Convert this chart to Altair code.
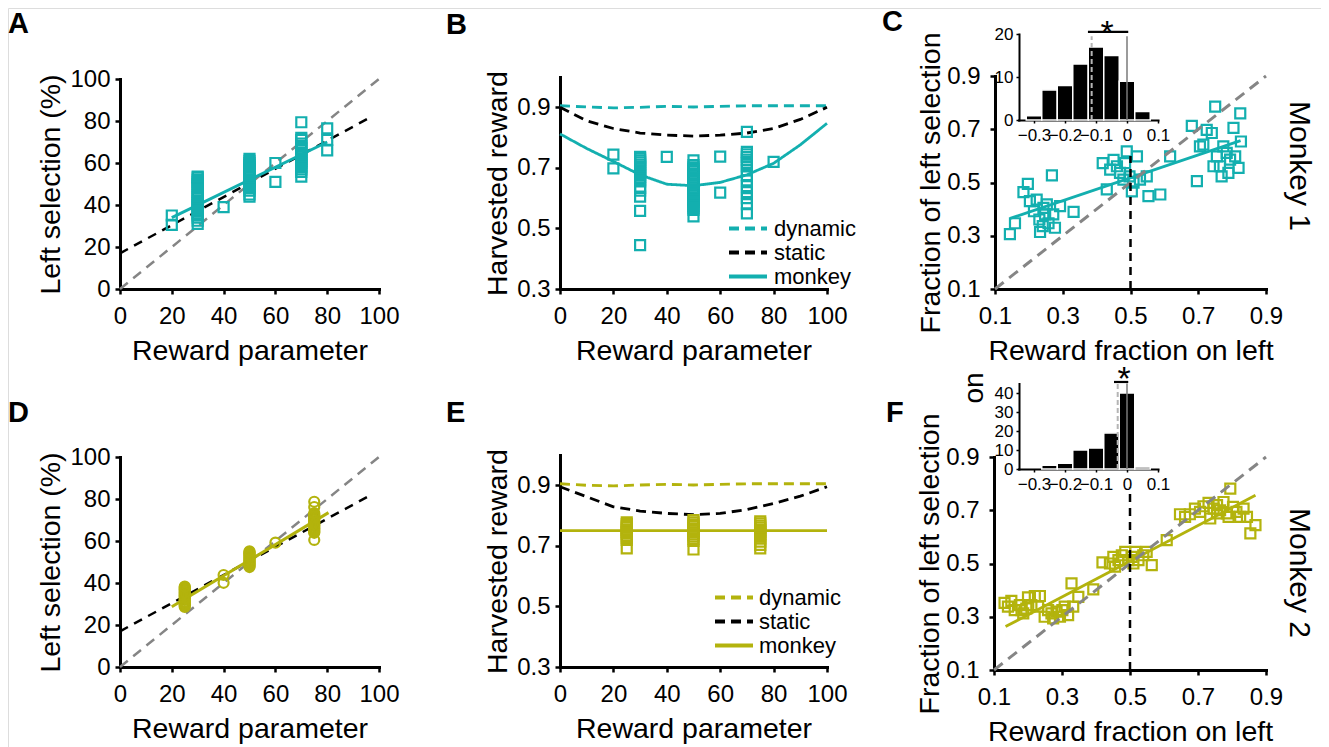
import altair as alt
import pandas as pd

W, H = 1313, 739
M = 8  # page pixel = chart pixel + M
FONT = "Liberation Sans"
CYAN = "#13AFAF"
OLIVE = "#B3B30D"
GRAY = "#858585"

# ---------------- Panel A (monkey 1) ----------------
a_param = [20, 20,
           30, 30, 30, 30, 30, 30, 30, 30, 30, 30, 30, 30, 30, 30, 30, 30, 30, 30, 30, 30, 30, 30,
           40,
           50, 50, 50, 50, 50, 50, 50, 50, 50, 50, 50, 50, 50, 50, 50, 50, 50, 50,
           60, 60,
           70, 70, 70, 70, 70, 70, 70, 70, 70, 70, 70, 70, 70, 70, 70, 70, 70, 70,
           80, 80, 80]
a_left = [35, 30.5,
          31, 32.5, 34, 35, 36, 37, 38, 39, 40, 41, 42, 43, 44, 45, 46.2, 48, 49, 50, 51, 52, 53, 53.5,
          39,
          44, 45, 46.8, 48, 49, 50, 51, 52, 53, 54, 55, 56, 57, 58, 59, 60, 61, 62,
          60, 51,
          53.5, 55.8, 57, 58, 59, 60, 61, 62, 63, 64, 65, 66, 67, 68, 69.2, 71, 72, 79.4,
          76.5, 71, 66]
a_fit_param = [20, 80]
a_fit_left = [34, 70]

# static model line and unity line shared by A and D
static_param = [0, 97]
static_left = [17, 82]
unity = [0, 100]

# ---------------- Panel D (monkey 2) ----------------
d_param = [25, 25, 25, 25, 25, 25, 25, 25, 25, 25, 25, 25, 25, 25, 25, 25, 25, 25, 25, 25,
           40, 40,
           50, 50, 50, 50, 50, 50, 50, 50, 50, 50, 50, 50, 50, 50, 50, 50,
           60,
           75, 75, 75, 75, 75, 75, 75, 75, 75, 75, 75, 75, 75, 75, 75, 75, 75, 75, 75, 75, 75, 75]
d_left = [28.6, 29.2, 29.7, 30.1, 30.8, 31.2, 31.9, 32.3, 32.8, 33.4, 33.9, 34.3, 34.9, 35.4,
          35.8, 36.5, 36.9, 37.4, 37.9, 38.3,
          43.8, 40.1,
          47.6, 48.1, 48.7, 49.2, 49.6, 50.2, 50.7, 51.1, 51.8, 52.2, 52.7, 53.3, 53.8, 54.2, 54.7, 55.1,
          59.2,
          60.5, 63.9, 64.4, 64.9, 65.5, 66.0, 66.4, 67.1, 67.5, 68.0, 68.6, 69.1, 69.5, 70.2,
          70.6, 71.1, 71.7, 72.2, 72.6, 73.3, 76.2, 78.7]
d_fit_param = [20, 80.5]
d_fit_left = [28.7, 73.5]

# ---------------- Panel B ----------------
b_param = [20, 20,
           30, 30, 30, 30, 30, 30, 30, 30, 30, 30, 30, 30, 30, 30, 30, 30, 30, 30,
           40,
           50, 50, 50, 50, 50, 50, 50, 50, 50, 50, 50, 50, 50, 50, 50, 50, 50, 50, 50, 50, 50, 50,
           50, 50, 50,
           60, 60,
           70, 70, 70, 70, 70, 70, 70, 70, 70, 70, 70, 70, 70, 70, 70,
           80]
b_reward = [0.744, 0.698,
            0.445, 0.558, 0.605, 0.625, 0.634, 0.655, 0.662, 0.669, 0.676, 0.683, 0.690, 0.697,
            0.704, 0.711, 0.718, 0.725, 0.731, 0.736,
            0.736,
            0.540, 0.561, 0.567, 0.574, 0.581, 0.588, 0.594, 0.601, 0.608, 0.615, 0.621, 0.628,
            0.635, 0.642, 0.648, 0.655, 0.662, 0.669, 0.675, 0.682, 0.689, 0.696, 0.702, 0.709, 0.725,
            0.737, 0.618,
            0.550, 0.580, 0.600, 0.620, 0.640, 0.659, 0.676, 0.692, 0.705, 0.716, 0.727, 0.736,
            0.745, 0.753, 0.819,
            0.72]
curve_param = [0, 10, 20, 30, 40, 50, 60, 70, 80, 90, 100]
b_dynamic = [0.905, 0.901, 0.898, 0.900, 0.903, 0.901, 0.903, 0.905, 0.905, 0.905, 0.905]
b_static = [0.900, 0.855, 0.830, 0.815, 0.808, 0.805, 0.808, 0.815, 0.830, 0.860, 0.900]
b_monkey = [0.812, 0.764, 0.721, 0.677, 0.646, 0.641, 0.652, 0.677, 0.715, 0.776, 0.847]

# ---------------- Panel E ----------------
e_param = [25, 25, 25, 25, 25, 25, 25, 25, 25, 25, 25,
           50, 50, 50, 50, 50, 50, 50, 50, 50, 50, 50, 50,
           75, 75, 75, 75, 75, 75, 75, 75, 75, 75, 75, 75]
e_reward = [0.692, 0.720, 0.727, 0.733, 0.740, 0.746, 0.753, 0.760, 0.766, 0.772, 0.778,
            0.688, 0.716, 0.723, 0.730, 0.737, 0.744, 0.751, 0.758, 0.765, 0.771, 0.778, 0.785,
            0.692, 0.703, 0.714, 0.725, 0.732, 0.739, 0.746, 0.753, 0.760, 0.767, 0.774, 0.781]
e_dynamic = [0.905, 0.900, 0.898, 0.901, 0.903, 0.901, 0.903, 0.905, 0.905, 0.905, 0.905]
e_static = [0.895, 0.862, 0.829, 0.815, 0.807, 0.803, 0.807, 0.820, 0.840, 0.864, 0.895]
e_monkey = [0.75, 0.75, 0.75, 0.75, 0.75, 0.75, 0.75, 0.75, 0.75, 0.75, 0.75]

series_names = ["dynamic", "static", "monkey"]

# ---------------- Panel C ----------------
c_frac = [0.144, 0.159, 0.184, 0.197, 0.203, 0.215, 0.223, 0.231, 0.233, 0.241, 0.243, 0.248,
          0.253, 0.258, 0.268, 0.272, 0.277, 0.292, 0.332,
          0.418, 0.430, 0.440, 0.450, 0.460, 0.469, 0.479, 0.484, 0.489, 0.497, 0.504, 0.509,
          0.519, 0.528, 0.548, 0.553, 0.588, 0.617,
          0.681, 0.696, 0.705, 0.715, 0.725, 0.740, 0.745, 0.750, 0.755, 0.764, 0.769, 0.774,
          0.784, 0.789, 0.794, 0.804, 0.809, 0.819, 0.824, 0.826]
c_sel = [0.306, 0.347, 0.464, 0.495, 0.430, 0.392, 0.436, 0.361, 0.314, 0.336, 0.405, 0.380,
         0.418, 0.347, 0.527, 0.380, 0.330, 0.411, 0.390,
         0.573, 0.474, 0.548, 0.585, 0.561, 0.536, 0.511, 0.573, 0.617, 0.523, 0.467, 0.499,
         0.598, 0.511, 0.523, 0.449, 0.455, 0.598,
         0.713, 0.505, 0.636, 0.642, 0.698, 0.686, 0.561, 0.785, 0.598, 0.561, 0.523, 0.636,
         0.611, 0.536, 0.586, 0.705, 0.598, 0.555, 0.760, 0.654]
c_fit_frac = [0.145, 0.825]
c_fit_sel = [0.365, 0.657]
c_vline_top = 0.60

# ---------------- Panel F ----------------
f_frac = [0.131, 0.141, 0.151, 0.161, 0.176, 0.181, 0.186, 0.195, 0.200, 0.210, 0.220, 0.230,
          0.235, 0.249, 0.259, 0.269, 0.274, 0.284, 0.294, 0.301, 0.308, 0.318, 0.328, 0.333, 0.348,
          0.392, 0.419, 0.441, 0.451, 0.456, 0.466, 0.476, 0.486, 0.495, 0.505, 0.510, 0.515,
          0.525, 0.539, 0.549, 0.564, 0.608,
          0.647, 0.662, 0.676, 0.691, 0.706, 0.716, 0.731, 0.736, 0.746, 0.756, 0.756, 0.765,
          0.775, 0.785, 0.790, 0.795, 0.803, 0.813, 0.824, 0.834, 0.844, 0.854, 0.869]
f_sel = [0.352, 0.338, 0.360, 0.325, 0.344, 0.325, 0.313, 0.331, 0.373, 0.344, 0.378, 0.338,
         0.378, 0.300, 0.325, 0.313, 0.294, 0.319, 0.300, 0.325, 0.338, 0.306, 0.425, 0.338, 0.375,
         0.403, 0.504, 0.500, 0.525, 0.488, 0.513, 0.531, 0.544, 0.513, 0.525, 0.500, 0.544,
         0.513, 0.531, 0.544, 0.494, 0.588,
         0.685, 0.675, 0.685, 0.706, 0.694, 0.715, 0.728, 0.669, 0.706, 0.719, 0.688, 0.700,
         0.731, 0.688, 0.675, 0.781, 0.713, 0.694, 0.675, 0.706, 0.675, 0.613, 0.644]
f_fit_frac = [0.134, 0.869]
f_fit_sel = [0.263, 0.756]
f_vline_top = 0.785

# ---------------- Insets (histograms) ----------------
hist_bins = [-0.30, -0.25, -0.20, -0.15, -0.10, -0.05, 0.00, 0.05]
c_counts = [1, 7, 8, 13, 17, 15, 9, 2]
f_counts = [0, 2, 3, 10, 11, 19, 40, 1]
c_mean_shift = -0.114
f_mean_shift = -0.03
BIN_HALF = 0.025


# ---------------- helpers ----------------
def scale(domain, p0, p1):
    return alt.Scale(domain=domain, range=[p0 - M, p1 - M], nice=False, zero=False)


COMMON_AXIS = dict(grid=False, labelFlush=False, labelOverlap=False, domainColor="black",
                   tickColor="black", labelColor="black", titleColor="black",
                   labelFont=FONT, titleFont=FONT, titleFontWeight="normal", domainCap="square")


def main_x_axis(y_page, ticks, title, fmt, lp=10):
    return alt.Axis(orient="bottom", offset=-(H - (y_page - M)), values=ticks, title=title,
                    format=fmt, labelFontSize=24, titleFontSize=28.5, tickSize=5, labelPadding=lp,
                    titlePadding=8, domainWidth=3, tickWidth=2.5, **COMMON_AXIS)


def main_y_axis(x_page, ticks, title, fmt, lp=5, tp=4):
    return alt.Axis(orient="left", offset=-(x_page - M), values=ticks, title=title,
                    format=fmt, labelFontSize=24, titleFontSize=28.5, tickSize=5, labelPadding=lp,
                    titlePadding=tp, domainWidth=3, tickWidth=2.5, **COMMON_AXIS)


def inset_x_axis(y_page, ticks):
    return alt.Axis(orient="bottom", offset=-(H - (y_page - M)), values=ticks, title=None,
                    format="~g", labelFontSize=17, tickSize=3, labelPadding=4,
                    domainWidth=2, tickWidth=1.5, **COMMON_AXIS)


def inset_y_axis(x_page, ticks):
    return alt.Axis(orient="left", offset=-(x_page - M), values=ticks, title=None,
                    format="d", labelFontSize=17, tickSize=3, labelPadding=3,
                    domainWidth=2, tickWidth=1.5, **COMMON_AXIS)


def enc(xs, ys, xf="x", yf="y", xa=None, ya=None):
    return dict(x=alt.X(f"{xf}:Q", scale=xs, axis=xa), y=alt.Y(f"{yf}:Q", scale=ys, axis=ya))


def text_label(txt, x_page, y_page, size, angle=0, weight="normal", align="left"):
    return alt.Chart(pd.DataFrame({"t": [txt]})).mark_text(
        font=FONT, fontSize=size, fontWeight=weight, angle=angle, align=align,
        baseline="alphabetic", color="black"
    ).encode(x=alt.value(x_page - M), y=alt.value(y_page - M), text="t:N")


layers = []


# ---------- choice panels (A, D) ----------
def choice_panel(xs, ys, y_axis_page, x_axis_page, pts_x, pts_y, fit_x, fit_y, color, shape):
    out = []
    out.append(alt.Chart(pd.DataFrame({"x": unity, "y": unity})).mark_line(
        color=GRAY, strokeWidth=2.5, strokeDash=[10, 7]).encode(**enc(xs, ys)))
    out.append(alt.Chart(pd.DataFrame({"x": static_param, "y": static_left})).mark_line(
        color="black", strokeWidth=2.5, strokeDash=[9, 7]).encode(**enc(xs, ys)))
    out.append(alt.Chart(pd.DataFrame({"x": fit_x, "y": fit_y})).mark_line(
        color=color, strokeWidth=3).encode(**enc(xs, ys)))
    out.append(alt.Chart(pd.DataFrame({"x": pts_x, "y": pts_y})).mark_point(
        shape=shape, filled=False, size=100, strokeWidth=2.2, color=color, opacity=1
    ).encode(**enc(xs, ys,
                   xa=main_x_axis(x_axis_page, [0, 20, 40, 60, 80, 100], "Reward parameter", "d"),
                   ya=main_y_axis(y_axis_page, [0, 20, 40, 60, 80, 100], "Left selection (%)", "d"))))
    return out


xsA, ysA = scale([0, 100], 120, 379), scale([0, 100], 289, 79)
layers += choice_panel(xsA, ysA, 120, 289, a_param, a_left, a_fit_param, a_fit_left, CYAN, "square")
xsD, ysD = scale([0, 100], 120, 379), scale([0, 100], 667, 457)
layers += choice_panel(xsD, ysD, 120, 667, d_param, d_left, d_fit_param, d_fit_left, OLIVE, "circle")


# ---------- harvest panels (B, E) ----------
def harvest_panel(xs, ys, x_axis_page, pts_x, pts_y, dyn, sta, mon, color, leg_x, leg_y, leg_off):
    df_lines = pd.DataFrame({
        "x": curve_param * 3,
        "y": dyn + sta + mon,
        "series": [series_names[0]] * len(dyn) + [series_names[1]] * len(sta) + [series_names[2]] * len(mon),
    })
    legend = alt.Legend(orient="none", legendX=leg_x, legendY=leg_y, title=None,
                        symbolType="M-2,0H2", symbolSize=361, symbolStrokeWidth=4,
                        labelFontSize=22, labelFont=FONT, labelColor="black",
                        labelOffset=leg_off, rowPadding=1, padding=0, offset=0)
    out = []
    out.append(alt.Chart(df_lines).mark_line(strokeWidth=2.8).encode(
        **enc(xs, ys),
        color=alt.Color("series:N", scale=alt.Scale(domain=series_names, range=[color, "black", color]),
                        legend=legend),
        strokeDash=alt.StrokeDash("series:N", scale=alt.Scale(domain=series_names,
                                                              range=[[10, 6], [10, 6], [1, 0]]),
                                  legend=legend),
    ))
    out.append(alt.Chart(pd.DataFrame({"x": pts_x, "y": pts_y})).mark_point(
        shape="square", filled=False, size=100, strokeWidth=2.2, color=color, opacity=1
    ).encode(**enc(xs, ys,
                   xa=main_x_axis(x_axis_page, [0, 20, 40, 60, 80, 100], "Reward parameter", "d"),
                   ya=main_y_axis(560, [0.3, 0.5, 0.7, 0.9], "Harvested reward", ".1f"))))
    return out


xsB, ysB = scale([0, 100], 560, 827), scale([0.3, 1.0], 289, 77)
layers += harvest_panel(xsB, ysB, 289, b_param, b_reward, b_dynamic, b_static, b_monkey, CYAN,
                        727 - M + 9.5, 228 - 11 - M, 14.5)
xsE, ysE = scale([0, 100], 560, 827), scale([0.3, 1.0], 667, 455)
layers += harvest_panel(xsE, ysE, 667, e_param, e_reward, e_dynamic, e_static, e_monkey, OLIVE,
                        713 - M + 9.5, 597 - 11 - M, 13.5)


# ---------- fraction panels (C, F) with histogram insets ----------
def fraction_panel(xs, ys, y_axis_page, x_axis_page, pts_x, pts_y, fit_x, fit_y, vtop, color):
    out = []
    out.append(alt.Chart(pd.DataFrame({"x": pts_x, "y": pts_y})).mark_point(
        shape="square", filled=False, size=100, strokeWidth=2.2, color=color, opacity=1
    ).encode(**enc(xs, ys,
                   xa=main_x_axis(x_axis_page, [0.1, 0.3, 0.5, 0.7, 0.9], "Reward fraction on left", ".1f"),
                   ya=main_y_axis(y_axis_page, [0.1, 0.3, 0.5, 0.7, 0.9], "Fraction of left selection",
                                  ".1f", lp=10, tp=1))))
    out.append(alt.Chart(pd.DataFrame({"x": fit_x, "y": fit_y})).mark_line(
        color=color, strokeWidth=2.8).encode(**enc(xs, ys)))
    out.append(alt.Chart(pd.DataFrame({"x": [0.1, 0.9], "y": [0.1, 0.9]})).mark_line(
        color=GRAY, strokeWidth=3, strokeDash=[11, 7]).encode(**enc(xs, ys)))
    out.append(alt.Chart(pd.DataFrame({"x": [0.5], "y": [0.1], "y2": [vtop]})).mark_rule(
        color="black", strokeWidth=2.5, strokeDash=[8, 6]).encode(**enc(xs, ys), y2=alt.Y2("y2")))
    return out


def inset(xs, ys, y_axis_page, x_axis_page, counts, shift, top, y_ticks, bracket_y, star_xy):
    df = pd.DataFrame({"bin": hist_bins, "count": counts})
    df["x0"] = df["bin"] - BIN_HALF
    df["x1"] = df["bin"] + BIN_HALF
    out = []
    out.append(alt.Chart(df).transform_filter("datum.count > 0").mark_bar(
        color="black", stroke="white", strokeWidth=1.5, opacity=1
    ).encode(
        x=alt.X("x0:Q", scale=xs, axis=inset_x_axis(x_axis_page, [-0.3, -0.2, -0.1, 0, 0.1])),
        x2=alt.X2("x1"),
        y=alt.Y("count:Q", scale=ys, axis=inset_y_axis(y_axis_page, y_ticks)),
        y2=alt.datum(0),
    ))
    out.append(alt.Chart(pd.DataFrame({"x": [0.0], "y": [0], "y2": [top]})).mark_rule(
        color="#7a7a7a", strokeWidth=1.5).encode(**enc(xs, ys), y2=alt.Y2("y2")))
    out.append(alt.Chart(pd.DataFrame({"x": [shift], "y": [0], "y2": [top]})).mark_rule(
        color="#b5b5b5", strokeWidth=2, strokeDash=[5, 3]).encode(**enc(xs, ys), y2=alt.Y2("y2")))
    out.append(alt.Chart(pd.DataFrame({"x": [shift - 0.012], "x2": [0.004], "y": [bracket_y]})).mark_rule(
        color="black", strokeWidth=2.2).encode(**enc(xs, ys), x2=alt.X2("x2")))
    out.append(text_label("*", star_xy[0], star_xy[1], 34, align="center"))
    return out


xsC, ysC = scale([0.1, 0.9], 995, 1266), scale([0.1, 0.9], 289, 76)
layers += fraction_panel(xsC, ysC, 995, 289, c_frac, c_sel, c_fit_frac, c_fit_sel, c_vline_top, CYAN)
xsF, ysF = scale([0.1, 0.9], 994, 1266), scale([0.1, 0.9], 670, 457)
layers += fraction_panel(xsF, ysF, 994, 670, f_frac, f_sel, f_fit_frac, f_fit_sel, f_vline_top, OLIVE)

xsCi, ysCi = scale([-0.35, 0.1], 1018.5, 1158), scale([0, 20], 120, 34)
layers += inset(xsCi, ysCi, 1019, 120, c_counts, c_mean_shift, 19.5, [0, 10, 20], 20.5, (1107, 44))
xsFi, ysFi = scale([-0.35, 0.1], 1018.5, 1158), scale([0, 45], 469, 383.5)
layers += inset(xsFi, ysFi, 1019, 469, f_counts, f_mean_shift, 45, [0, 10, 20, 30, 40], 45.8, (1124, 390))

# ---------- panel letters and side labels ----------
for letter, lx, ly in [("A", 8, 33), ("B", 446, 34), ("C", 882, 31),
                       ("D", 8, 422), ("E", 446, 422), ("F", 886, 422)]:
    layers.append(text_label(letter, lx, ly, 29, weight="bold"))
layers.append(text_label("Monkey 1", 1290, 166, 30, angle=90, align="center"))
layers.append(text_label("Monkey 2", 1290, 573, 30, angle=90, align="center"))
layers.append(text_label("on", 983, 388, 28, angle=270, align="center"))

chart = alt.layer(*layers).resolve_scale(
    x="independent", y="independent", color="independent", strokeDash="independent"
).resolve_axis(
    x="independent", y="independent"
).resolve_legend(
    color="independent", strokeDash="independent"
).properties(
    width=W, height=H, padding=0, autosize=alt.AutoSizeParams(type="none")
).configure_view(stroke=None).configure(font=FONT)

chart.save("out.html", embed_options={"renderer": "svg", "actions": False})
